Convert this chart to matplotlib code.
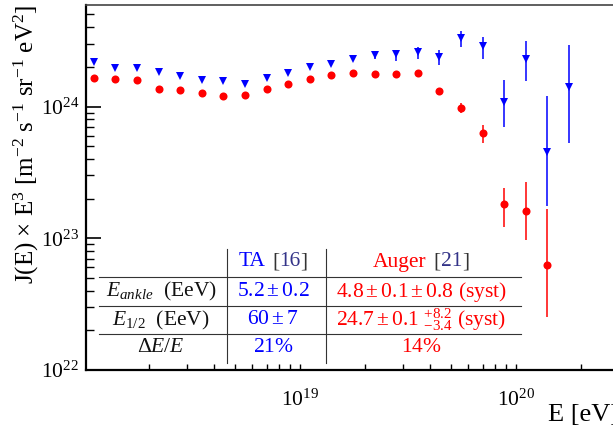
import matplotlib
matplotlib.use("Agg")
import matplotlib.pyplot as plt
from matplotlib.lines import Line2D
from matplotlib.offsetbox import TextArea, HPacker, AnnotationBbox
import numpy as np

plt.rcParams['font.family'] = ['Liberation Serif', 'DejaVu Serif']
plt.rcParams['mathtext.fontset'] = 'custom'
plt.rcParams['mathtext.rm'] = 'Liberation Serif'
plt.rcParams['mathtext.it'] = 'Liberation Serif:italic'
plt.rcParams['mathtext.bf'] = 'Liberation Serif:bold'

# ---------------- data ----------------
energy = [1.109e18, 1.396e18, 1.758e18, 2.213e18, 2.786e18, 3.508e18, 4.416e18,
          5.559e18, 6.998e18, 8.810e18, 1.109e19, 1.396e19, 1.758e19, 2.213e19,
          2.786e19, 3.508e19, 4.416e19, 5.559e19, 6.998e19, 8.810e19, 1.109e20,
          1.396e20, 1.758e20]

ta_flux = [2.17e24, 1.95e24, 1.96e24, 1.83e24, 1.70e24, 1.59e24, 1.55e24,
           1.49e24, 1.65e24, 1.79e24, 1.99e24, 2.12e24, 2.30e24, 2.46e24,
           2.50e24, 2.58e24, 2.39e24, 3.34e24, 2.90e24, 1.08e24, 2.31e24,
           4.54e23, 1.41e24]
ta_low = [2.17e24, 1.95e24, 1.96e24, 1.83e24, 1.70e24, 1.59e24, 1.55e24,
          1.49e24, 1.65e24, 1.79e24, 1.99e24, 2.05e24, 2.22e24, 2.29e24,
          2.23e24, 2.29e24, 2.05e24, 2.82e24, 2.31e24, 7.00e23, 1.55e24,
          1.76e23, 5.27e23]
ta_high = [2.17e24, 1.95e24, 1.96e24, 1.83e24, 1.70e24, 1.59e24, 1.55e24,
           1.49e24, 1.65e24, 1.79e24, 1.99e24, 2.19e24, 2.38e24, 2.61e24,
           2.66e24, 2.82e24, 2.70e24, 3.77e24, 3.36e24, 1.59e24, 3.16e24,
           1.21e24, 2.95e24]

auger_energy = energy[:22]
auger_flux = [1.65e24, 1.63e24, 1.58e24, 1.36e24, 1.34e24, 1.26e24, 1.21e24,
              1.22e24, 1.36e24, 1.48e24, 1.63e24, 1.75e24, 1.79e24, 1.77e24,
              1.77e24, 1.80e24, 1.31e24, 9.76e23, 6.27e23, 1.82e23, 1.60e23,
              6.27e22]
auger_low = [1.65e24, 1.63e24, 1.58e24, 1.36e24, 1.34e24, 1.26e24, 1.21e24,
             1.22e24, 1.36e24, 1.48e24, 1.63e24, 1.75e24, 1.79e24, 1.77e24,
             1.77e24, 1.80e24, 1.25e24, 8.89e23, 5.27e23, 1.22e23, 9.70e22,
             2.54e22]
auger_high = [1.65e24, 1.63e24, 1.58e24, 1.36e24, 1.34e24, 1.26e24, 1.21e24,
              1.22e24, 1.36e24, 1.48e24, 1.63e24, 1.75e24, 1.79e24, 1.77e24,
              1.77e24, 1.80e24, 1.38e24, 1.07e24, 7.21e23, 2.40e23, 2.66e23,
              1.67e23]

col_headers = [("TA", "16"), ("Auger", "21")]
row_labels = [r"$E_{ankle}$  (EeV)", r"$E_{1/2}$  (EeV)", r"$\Delta E/E$"]
ta_values = [r"$5.2\pm0.2$", r"$60\pm7$", r"$21\%$"]
auger_values = [r"$4.8\pm0.1\pm0.8$ (syst)",
                r"$24.7\pm0.1\ ^{+8.2}_{-3.4}$ (syst)",
                r"$14\%$"]

# ---------------- figure ----------------
W, H = 613, 429
fig = plt.figure(figsize=(W / 100, H / 100), dpi=100)

def fx(px):
    return px / W

def fy(py):
    return 1 - py / H

ax = fig.add_axes([fx(86), fy(370), fx(619) - fx(86), fy(5) - fy(370)])
ax.set_xscale('log')
ax.set_yscale('log')
ax.set_xlim(1.02e18, 3e20)
ax.set_ylim(1e22, 5.9e24)

ta_f = np.array(ta_flux)
au_f = np.array(auger_flux)
ax.errorbar(energy, ta_f, yerr=[ta_f - np.array(ta_low), np.array(ta_high) - ta_f],
            fmt='v', color='#0000ff', ms=5.5, elinewidth=1.1, capsize=1.8,
            capthick=1.0, mec='#0000ff', mew=0)
ax.errorbar(auger_energy, au_f, yerr=[au_f - np.array(auger_low), np.array(auger_high) - au_f],
            fmt='o', color='#ff0000', ms=5.8, elinewidth=1.1, capsize=1.8,
            capthick=1.0, mec='#ff0000', mew=0)

for side in ['left', 'bottom']:
    ax.spines[side].set_linewidth(1.6)
    ax.spines[side].set_color('black')
ax.spines['top'].set_linewidth(1.2)
ax.spines['top'].set_color('#444444')
ax.spines['right'].set_visible(False)

ax.tick_params(which='both', direction='in', top=False, right=False)
ax.tick_params(which='major', labelsize=15.5)
ax.tick_params(axis='y', which='major', length=11, width=1.2, pad=5)
ax.tick_params(axis='y', which='minor', length=5.5, width=1.0)
ax.tick_params(axis='x', which='major', length=4.5, width=1.0, pad=14)
ax.tick_params(axis='x', which='minor', length=4, width=1.0)

ax.set_ylabel(r"J(E) $\times$ E$^{3}$ [m$^{-2}$ s$^{-1}$ sr$^{-1}$ eV$^{2}$]",
              fontsize=18, loc='top', labelpad=0)
ax.set_xlabel("E [eV]", fontsize=19, loc='right', labelpad=-5)

# ---------------- table ----------------
line_kw = dict(color='#333333', lw=0.8, transform=fig.transFigure)
for yy in [277, 306, 334]:
    fig.add_artist(Line2D([fx(99), fx(521)], [fy(yy), fy(yy)], **line_kw))
for xx in [227, 326]:
    fig.add_artist(Line2D([fx(xx), fx(xx)], [fy(249), fy(363)], **line_kw))

fs = 15.5
col_x = [161, 273, 421]
row_y = [291.5, 320, 347]
head_y = 262

head_colors = ['#0000ff', '#ff0000']
for (name, ref), cx, c in zip(col_headers, col_x[1:], head_colors):
    tp = dict(fontsize=fs)
    ref_box = HPacker(children=[TextArea("[", textprops=dict(color='#333333', **tp)),
                                TextArea(ref, textprops=dict(color='#333388', **tp)),
                                TextArea("]", textprops=dict(color='#333333', **tp))],
                      sep=0, pad=0, align='baseline')
    box = HPacker(children=[TextArea(name, textprops=dict(color=c, **tp)), ref_box],
                  sep=5, pad=0, align='baseline')
    ab = AnnotationBbox(box, (fx(cx), fy(head_y)), xycoords='figure fraction',
                        frameon=False, box_alignment=(0.5, 0.5), pad=0)
    fig.add_artist(ab)

for lbl, ty in zip(row_labels, row_y):
    fig.text(fx(col_x[0]), fy(ty), lbl, fontsize=fs, ha='center', va='center', color='#111111')
for v, ty in zip(ta_values, row_y):
    fig.text(fx(col_x[1]), fy(ty), v, fontsize=fs, ha='center', va='center', color='#0000ff')
for v, ty in zip(auger_values, row_y):
    fig.text(fx(col_x[2]), fy(ty), v, fontsize=fs, ha='center', va='center', color='#ff0000')

fig.savefig("out.png", dpi=100)
